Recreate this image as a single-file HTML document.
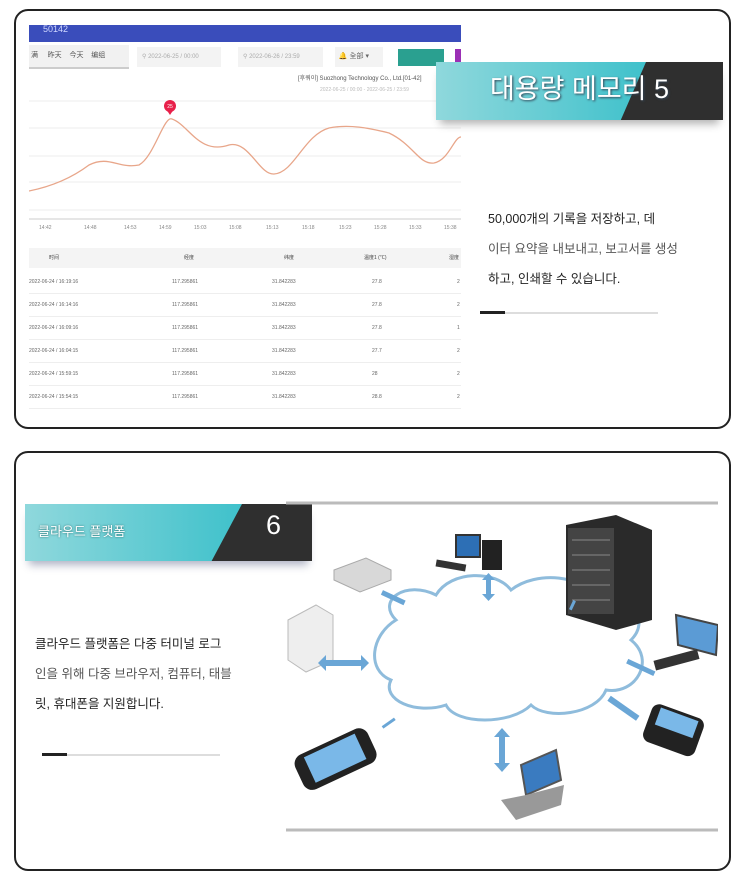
<!DOCTYPE html>
<html><head><meta charset="utf-8"><style>
body{margin:0;width:750px;height:872px;background:#fff;font-family:"Liberation Sans","Noto Sans CJK KR",sans-serif;position:relative;overflow:hidden}
.p{position:absolute;left:14px;width:717px;border:2px solid #222;border-radius:14px;box-sizing:border-box}
.a{position:absolute}
.t{font-size:12.5px;color:#222;line-height:30px}
.r{position:absolute;left:29px;width:432px;height:22px;border-bottom:1px solid #eee;font-size:5px;color:#666;line-height:22px}
.r span{position:absolute}
</style></head><body>
<div class="p" style="top:9px;height:420px"></div>
<div class="p" style="top:451px;height:420px"></div>

<div class="a" style="left:29px;top:25px;width:432px;height:17px;background:#3a4dbb;color:#cfd6ff;font-size:9px;padding-left:14px;box-sizing:border-box;line-height:9px">50142</div>
<div class="a" style="left:29px;top:45px;width:100px;height:22px;background:#f1f1f1;border-bottom:2px solid #ccc;font-size:7px;color:#555;line-height:22px">&nbsp;满 &nbsp;&nbsp;&nbsp;&nbsp;昨天 &nbsp;&nbsp;&nbsp;今天 &nbsp;&nbsp;&nbsp;编组</div>
<div class="a" style="left:137px;top:47px;width:84px;height:20px;background:#f3f3f3;font-size:6px;color:#aaa;line-height:20px">&nbsp;&nbsp;&nbsp;⚲ 2022-06-25 / 00:00</div>
<div class="a" style="left:238px;top:47px;width:85px;height:20px;background:#f3f3f3;font-size:6px;color:#aaa;line-height:20px">&nbsp;&nbsp;&nbsp;⚲ 2022-06-26 / 23:59</div>
<div class="a" style="left:335px;top:47px;width:48px;height:20px;background:#f3f3f3;font-size:7px;color:#666;line-height:20px">&nbsp;&nbsp;🔔 全部 ▾</div>
<div class="a" style="left:398px;top:49px;width:46px;height:17px;background:#2aa090"></div>
<div class="a" style="left:455px;top:49px;width:6px;height:17px;background:#9b2fb5"></div>
<div class="a" style="left:298px;top:73px;font-size:6px;color:#555">[후쿼이] Suozhong Technology Co., Ltd.[01-42]</div>
<div class="a" style="left:320px;top:87px;font-size:5px;color:#bbb">2022-06-25 / 00:00 - 2022-06-25 / 23:59</div>
<svg class="a" style="left:29px;top:95px" width="432" height="140">
<g stroke="#eee" stroke-width="1"><line x1="0" y1="6" x2="432" y2="6"/><line x1="0" y1="33" x2="432" y2="33"/><line x1="0" y1="61" x2="432" y2="61"/><line x1="0" y1="87" x2="432" y2="87"/><line x1="0" y1="115" x2="432" y2="115"/></g>
<line x1="0" y1="124" x2="432" y2="124" stroke="#ccc"/>
<path d="M0,96 C20,92 40,85 60,70 C80,60 90,74 110,70 C125,62 135,20 143,24 C160,30 170,60 200,50 C220,45 230,80 245,79 C265,78 275,40 300,33 C320,29 340,33 360,38 C385,50 390,70 405,68 C420,65 425,42 432,42" fill="none" stroke="#e8a68a" stroke-width="1.3"/>
<circle cx="141" cy="11" r="6" fill="#e8204a"/><path d="M137,14 L145,14 L141,20Z" fill="#e8204a"/>
<text x="141" y="13" font-size="5" fill="#fff" text-anchor="middle">25</text>
<g font-size="5" fill="#888"><text x="10" y="134">14:42</text><text x="55" y="134">14:48</text><text x="95" y="134">14:53</text><text x="130" y="134">14:59</text><text x="165" y="134">15:03</text><text x="200" y="134">15:08</text><text x="237" y="134">15:13</text><text x="273" y="134">15:18</text><text x="310" y="134">15:23</text><text x="345" y="134">15:28</text><text x="380" y="134">15:33</text><text x="415" y="134">15:38</text></g>
</svg>
<div class="r" style="top:248px;height:20px;background:#f4f4f4;color:#444;border:0;line-height:20px"><span style="left:20px">时间</span><span style="left:155px">经度</span><span style="left:255px">纬度</span><span style="left:335px">温度1 (℃)</span><span style="left:420px">湿度</span></div>
<div class="r" style="top:271px"><span style="left:0">2022-06-24 / 16:19:16</span><span style="left:143px">117.295861</span><span style="left:243px">31.842283</span><span style="left:343px">27.8</span><span style="left:428px">2</span></div>
<div class="r" style="top:294px"><span style="left:0">2022-06-24 / 16:14:16</span><span style="left:143px">117.295861</span><span style="left:243px">31.842283</span><span style="left:343px">27.8</span><span style="left:428px">2</span></div>
<div class="r" style="top:317px"><span style="left:0">2022-06-24 / 16:09:16</span><span style="left:143px">117.295861</span><span style="left:243px">31.842283</span><span style="left:343px">27.8</span><span style="left:428px">1</span></div>
<div class="r" style="top:340px"><span style="left:0">2022-06-24 / 16:04:15</span><span style="left:143px">117.295861</span><span style="left:243px">31.842283</span><span style="left:343px">27.7</span><span style="left:428px">2</span></div>
<div class="r" style="top:363px"><span style="left:0">2022-06-24 / 15:59:15</span><span style="left:143px">117.295861</span><span style="left:243px">31.842283</span><span style="left:343px">28</span><span style="left:428px">2</span></div>
<div class="r" style="top:386px"><span style="left:0">2022-06-24 / 15:54:15</span><span style="left:143px">117.295861</span><span style="left:243px">31.842283</span><span style="left:343px">28.8</span><span style="left:428px">2</span></div>

<div class="a" style="left:436px;top:62px;width:287px;height:58px;background:#2f2f2f;box-shadow:0 8px 8px -4px rgba(0,0,0,.3)"></div>
<div class="a" style="left:436px;top:62px;width:210px;height:58px;background:linear-gradient(90deg,#8fd8dc,#3fc1cb);clip-path:polygon(0 0,100% 0,88% 100%,0 100%)"></div>
<div class="a" style="left:436px;top:62px;width:287px;height:58px;color:#fff;font-size:27px;line-height:54px;text-align:center;text-shadow:1px 1px 2px #345">대용량 메모리 5</div>

<div class="a t" style="left:488px;top:204px;width:225px">50,000개의 기록을 저장하고, 데<br><span style="color:#555">이터 요약을 내보내고, 보고서를 생성</span><br>하고, 인쇄할 수 있습니다.</div>
<div class="a" style="left:480px;top:312px;width:178px;height:2px;background:#ddd"></div>
<div class="a" style="left:480px;top:311px;width:25px;height:3px;background:#222"></div>

<div class="a" style="left:25px;top:504px;width:287px;height:57px;background:#2f2f2f;box-shadow:0 8px 8px -4px rgba(30,40,90,.35)"></div>
<div class="a" style="left:25px;top:504px;width:217px;height:57px;background:linear-gradient(90deg,#8fd8dc,#3fc1cb);clip-path:polygon(0 0,100% 0,86% 100%,0 100%)"></div>
<div class="a" style="left:38px;top:521px;color:#fff;font-size:13px;text-shadow:0 0 2px #266">클라우드 플랫폼</div>
<div class="a" style="left:266px;top:510px;color:#fff;font-size:27px">6</div>

<div class="a t" style="left:35px;top:629px;width:225px">클라우드 플랫폼은 다중 터미널 로그<br><span style="color:#555">인을 위해 다중 브라우저, 컴퓨터, 태블</span><br>릿, 휴대폰을 지원합니다.</div>
<div class="a" style="left:42px;top:754px;width:178px;height:2px;background:#ddd"></div>
<div class="a" style="left:42px;top:753px;width:25px;height:3px;background:#222"></div>

<svg class="a" style="left:286px;top:500px" width="432" height="335">
<line x1="0" y1="3" x2="432" y2="3" stroke="#bbb" stroke-width="3"/>
<line x1="0" y1="330" x2="432" y2="330" stroke="#bbb" stroke-width="3"/>
<path d="M110,120 C90,100 120,80 150,95 C165,70 210,70 225,90 C250,70 300,75 310,100 C345,95 365,120 345,140 C370,160 350,195 320,190 C310,215 260,220 245,205 C225,225 170,225 160,205 C130,215 95,200 105,180 C80,170 85,135 110,120Z" fill="#fff" stroke="#8fbcdc" stroke-width="3"/>
<polygon points="280,25 330,15 366,30 366,120 330,130 280,115" fill="#2a2a2a"/>
<rect x="282" y="28" width="46" height="86" fill="#444"/>
<g stroke="#888"><line x1="286" y1="40" x2="324" y2="40"/><line x1="286" y1="55" x2="324" y2="55"/><line x1="286" y1="70" x2="324" y2="70"/><line x1="286" y1="85" x2="324" y2="85"/><line x1="286" y1="100" x2="324" y2="100"/></g>
<rect x="170" y="35" width="24" height="22" fill="#2d6fb5" stroke="#333" stroke-width="2"/>
<rect x="196" y="40" width="20" height="30" fill="#222"/>
<rect x="150" y="62" width="30" height="7" fill="#333" transform="rotate(10 165 65)"/>
<polygon points="48,70 80,58 105,70 105,80 74,92 48,80" fill="#d8d8d8" stroke="#aaa"/>
<polygon points="2,120 30,105 47,115 47,160 20,172 2,160" fill="#eee" stroke="#bbb"/>
<polygon points="390,115 432,125 430,155 392,145" fill="#5b9bd5" stroke="#444" stroke-width="2"/>
<rect x="368" y="155" width="45" height="10" fill="#333" transform="rotate(-15 390 160)"/>
<rect x="360" y="210" width="55" height="40" rx="8" fill="#222" transform="rotate(20 387 230)"/>
<rect x="368" y="213" width="40" height="18" fill="#7ab8e8" transform="rotate(20 387 230)"/>
<rect x="10" y="240" width="80" height="38" rx="10" fill="#222" transform="rotate(-25 50 260)"/>
<rect x="22" y="244" width="56" height="28" fill="#7ab8e8" transform="rotate(-25 50 260)"/>
<polygon points="235,265 270,250 275,280 240,295" fill="#3a7bc0" stroke="#555" stroke-width="2"/>
<polygon points="215,300 240,295 278,285 275,305 230,320" fill="#999"/>
<g fill="#6aa6d6">
<rect x="200" y="78" width="5" height="18"/><polygon points="196,80 209,80 202.5,73"/><polygon points="196,94 209,94 202.5,101"/>
<rect x="95" y="95" width="25" height="5" transform="rotate(25 107 97)"/>
<rect x="40" y="160" width="35" height="6"/><polygon points="40,155 40,171 32,163"/><polygon points="75,155 75,171 83,163"/>
<rect x="340" y="165" width="30" height="5" transform="rotate(25 355 167)"/>
<rect x="320" y="205" width="35" height="6" transform="rotate(35 337 208)"/>
<rect x="213" y="235" width="6" height="30"/><polygon points="208,237 224,237 216,228"/><polygon points="208,263 224,263 216,272"/>
<rect x="285" y="100" width="3" height="10" transform="rotate(25 286 105)"/>
<rect x="95" y="222" width="15" height="3" transform="rotate(-35 102 223)"/>
</g>
</svg>
</body></html>
